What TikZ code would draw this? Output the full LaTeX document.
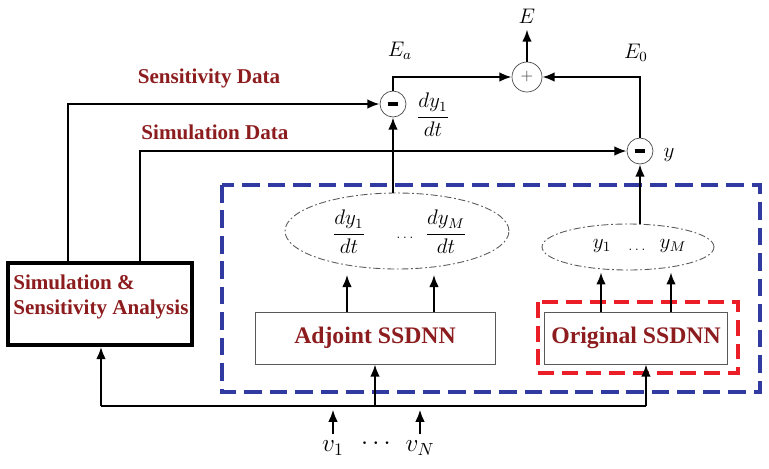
\documentclass[tikz,border=0pt]{standalone}
\usepackage{fontspec}
\setmainfont{Liberation Serif}
\usetikzlibrary{arrows.meta,shapes.geometric}
\definecolor{lbl}{RGB}{140,28,30}
\definecolor{outer}{RGB}{48,58,160}
\definecolor{inner}{RGB}{235,30,40}
\colorlet{ring}{gray!60!black}

\begin{document}
\begin{tikzpicture}
    [x=0.02cm,y=-0.02cm,
      flow/.style={line width=1.3pt,-{Latex[length=7pt,width=5.5pt]}},
      wire/.style={line width=1.3pt},
      sumnode/.style={circle,draw=ring,fill=white,minimum size=0.52cm,inner sep=0pt},
      datalbl/.style={font=\bfseries\fontsize{12}{14}\selectfont,text=lbl},
      mathlbl/.style={font=\large},
      netbox/.style={draw=gray!70!black,fill=white,minimum width=4.8cm,minimum height=1.04cm,
        font=\bfseries\fontsize{13.5}{15}\selectfont,text=lbl},
      outset/.style={ellipse,draw=gray!70!black,line width=0.5pt,
        dash pattern=on 4pt off 1.5pt on 1pt off 1.5pt,inner sep=0pt}]
    \useasboundingbox (0,0) rectangle (769,468);

    % frames
    \draw[outer,line width=1.9pt,dash pattern=on 10pt off 4.5pt] (222,185) rectangle (760,392);
    \draw[inner,line width=1.9pt,dash pattern=on 9pt off 4.5pt] (538,302) rectangle (738,373);

    \node[draw,line width=2pt,minimum width=3.68cm,minimum height=1.64cm] (sim) at (100,304) {};
    \node[align=left,font=\bfseries\fontsize{12}{14}\selectfont,text=lbl,inner sep=0pt,
      anchor=west] (simtxt) at (13,297) {Simulation \&\\Sensitivity Analysis};
    \node[netbox] (adj) at (375,338) {Adjoint SSDNN};
    \node[netbox,minimum width=3.66cm] (orig) at (636,338) {Original SSDNN};

    \node[outset,minimum width=4.48cm,minimum height=1.52cm] (ell1) at (397,231) {};
    \node[mathlbl] at (349,232) {$\displaystyle\frac{dy_1}{dt}$};
    \node at (405,238) {\scriptsize$\ldots$};
    \node[mathlbl] at (446,232) {$\displaystyle\frac{dy_M}{dt}$};
    \node[outset,minimum width=3.44cm,minimum height=0.92cm] (ell2) at (628,247) {};
    \node[mathlbl] at (602,246) {$y_1$};
    \node at (637,250) {\scriptsize$\ldots$};
    \node[mathlbl] at (673,246) {$y_M$};

    % comparators and sum
    \node[sumnode] (m1) at (393,104) {\rule{6pt}{2.6pt}};
    \node[sumnode] (m2) at (640,151) {\rule{6pt}{2.6pt}};
    \node[sumnode,minimum size=0.6cm,font=\small,text=ring] (plus) at (527,77) {$+$};
    \node[mathlbl] (Eout) at (527,16) {$E$};
    \node[mathlbl] at (400,51) {$E_a$};
    \node[mathlbl] at (636,53) {$E_0$};
    \node[mathlbl] at (433,115) {$\displaystyle\frac{dy_1}{dt}$};
    \node[mathlbl] at (669,155) {$y$};

    \node[datalbl] at (209,78) {Sensitivity Data};
    \node[datalbl] at (215,132) {Simulation Data};

    \coordinate (sens) at (68,101);
    \coordinate (simd) at (140,152);
    \draw[flow] (sim.north -| sens) |- (m1.west);
    \draw[flow] (sim.north -| simd) |- (m2.west);
    \draw[flow] (m1 |- ell1.north) -- (m1.south);
    \draw[flow] (m2 |- ell2.north) -- (m2.south);
    \draw[flow] (m1.north) |- (plus.west);
    \draw[flow] (m2.north) |- (plus.east);
    \draw[flow] (plus.north) -- (Eout.south);

    \foreach \x in {347,434}
      \draw[flow,shorten >=3pt] (adj.north -| \x,0) -- (ell1.south -| \x,0);
    \foreach \x in {601,671}
      \draw[flow,shorten >=1pt] (orig.north -| \x,0) -- (ell2.south -| \x,0);

    % inputs
    \coordinate (busL) at (101,406);
    \coordinate (busR) at (646,406);
    \draw[wire] (busL) -- (busR);
    \draw[flow] (busL) -- (sim.south -| busL);
    \draw[flow] (adj.south |- busL) -- (adj.south);
    \draw[flow] (busR) -- (orig.south -| busR);

    \node[font=\Large] (v1) at (333,448) {$v_1$};
    \node[font=\Large] at (376,444) {$\cdots$};
    \node[font=\Large] (vN) at (420,448) {$v_N$};
    \draw[flow,shorten >=2pt] (v1.north) -- (v1 |- busL);
    \draw[flow,shorten >=2pt] (vN.north) -- (vN |- busL);
\end{tikzpicture}
\end{document}
